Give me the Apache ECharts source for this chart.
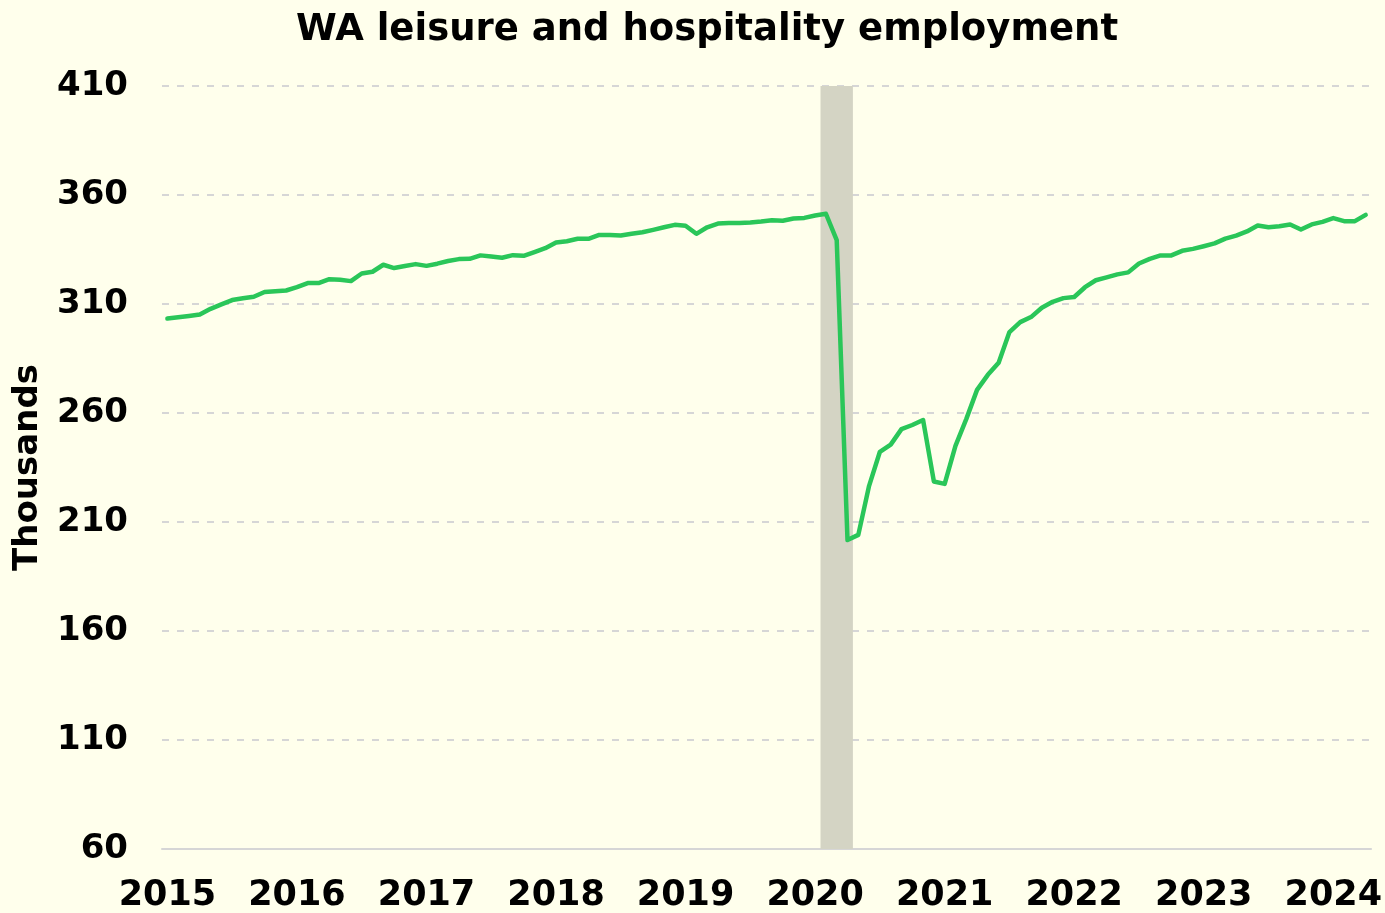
<!DOCTYPE html>
<html>
<head>
<meta charset="utf-8">
<script src="https://cdn.jsdelivr.net/npm/echarts@6/dist/echarts.min.js"></script>
<style>
  html, body { margin: 0; padding: 0; background: #FFFFEC; }
  #chart { width: 1385px; height: 913px; }
</style>
</head>
<body>
<div id="chart"></div>
<script>
// Monthly employment, thousands, Jan 2015 – Apr 2024
const startYear = 2015;
const employment = [
  303.3, 303.9, 304.5, 305.2, 307.8, 309.8, 311.8, 312.6, 313.3, 315.5, 315.9, 316.2,
  317.7, 319.6, 319.6, 321.4, 321.1, 320.5, 324.0, 324.8, 328.0, 326.5, 327.4, 328.3,
  327.5, 328.5, 329.7, 330.6, 330.7, 332.3, 331.8, 331.2, 332.4, 332.1, 333.8, 335.6,
  338.2, 338.8, 339.9, 339.9, 341.7, 341.6, 341.4, 342.2, 342.9, 344.0, 345.2, 346.3,
  345.9, 342.2, 345.2, 346.9, 347.2, 347.2, 347.4, 347.8, 348.4, 348.2, 349.2, 349.5,
  350.6, 351.4, 339.3, 201.7, 204.1, 226.6, 242.2, 245.5, 252.6, 254.5, 256.8, 228.6,
  227.5, 244.9, 257.2, 270.6, 277.5, 283.1, 297.1, 301.7, 304.0, 308.3, 311.0, 312.7,
  313.2, 317.7, 320.9, 322.2, 323.6, 324.5, 328.6, 330.7, 332.3, 332.3, 334.4, 335.3,
  336.5, 337.8, 340.0, 341.4, 343.3, 346.0, 345.2, 345.7, 346.5, 344.2, 346.5, 347.7,
  349.4, 348.0, 348.0, 350.9
];
const yearLabels = [2015, 2016, 2017, 2018, 2019, 2020, 2021, 2022, 2023, 2024];
const yTicks = [60, 110, 160, 210, 260, 310, 360, 410];
// Recession months (first and last), as [year, month 1-12]
const recessionStart = [2020, 2];
const recessionEnd = [2020, 4];

const toYear = (y, m) => y + (m - 1) / 12;
const half = 1 / 24;
const points = employment.map((v, i) => [startYear + i / 12, v]);

const font = 'DejaVu Sans';
const chart = echarts.init(document.getElementById('chart'));
chart.setOption({
  backgroundColor: '#FFFFEC',
  animation: false,
  title: {
    text: 'WA leisure and hospitality employment',
    left: 291, top: 7,
    textStyle: { fontFamily: font, fontWeight: 'bold', fontSize: 37, color: '#000' }
  },
  grid: { left: 162, right: 13, top: 86, bottom: 63, containLabel: false },
  xAxis: {
    type: 'value',
    min: points[0][0] - half,
    max: points[points.length - 1][0] + half,
    axisLine: { show: true, lineStyle: { color: '#D6D6D6', width: 2 } },
    axisTick: { show: false },
    splitLine: { show: false },
    axisLabel: {
      customValues: yearLabels,
      formatter: v => String(Math.round(v)),
      fontFamily: font, fontWeight: 'bold', fontSize: 35, color: '#000',
      margin: 29
    }
  },
  yAxis: {
    type: 'value',
    min: yTicks[0], max: yTicks[yTicks.length - 1], interval: 50,
    name: 'Thousands',
    nameLocation: 'middle',
    nameGap: 117,
    nameTextStyle: { fontFamily: font, fontWeight: 'bold', fontSize: 34, color: '#000' },
    axisLine: { show: false },
    axisTick: { show: false },
    splitLine: { show: true, lineStyle: { color: '#D6D6D6', width: 2, type: [7, 8] } },
    axisLabel: { fontFamily: font, fontWeight: 'bold', fontSize: 34, color: '#000', margin: 34 }
  },
  series: [{
    type: 'line',
    data: points,
    showSymbol: false,
    symbol: 'none',
    lineStyle: { color: '#2AC659', width: 4.5, cap: 'round', join: 'round' },
    z: 3,
    markArea: {
      silent: true,
      itemStyle: { color: '#D4D4C4' },
      data: [[
        { xAxis: toYear(recessionStart[0], recessionStart[1]) - half },
        { xAxis: toYear(recessionEnd[0], recessionEnd[1]) + half }
      ]]
    }
  }]
});
</script>
</body>
</html>
